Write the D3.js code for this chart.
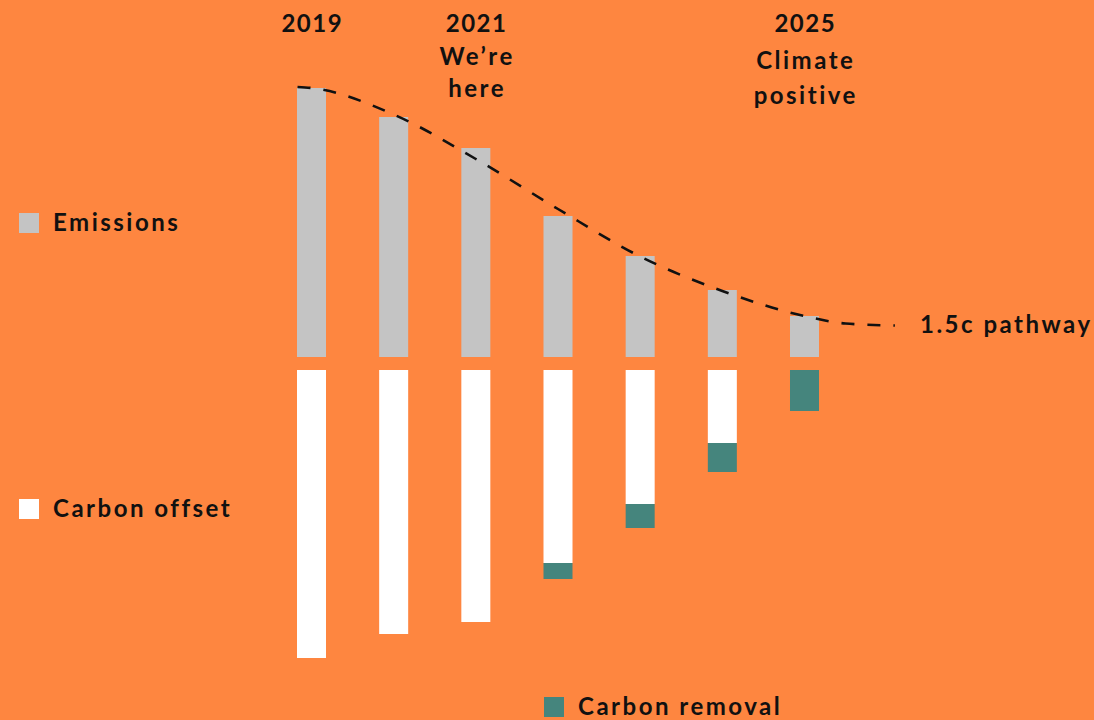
<!DOCTYPE html>
<html>
<head>
<meta charset="utf-8">
<script src="https://cdn.jsdelivr.net/npm/d3@7"></script>
<style>
  html, body { margin: 0; padding: 0; background: #FE8640; }
  svg { display: block; }
  text { font-family: Lato, "Open Sans", sans-serif; font-weight: 700; fill: #111; font-size: 24px; letter-spacing: 2.5px; }
  tspan.num { letter-spacing: 1.5px; }
</style>
</head>
<body>
<svg id="chart" width="1094" height="720"></svg>
<script>
// ---- data ----
const years = [2019, 2020, 2021, 2022, 2023, 2024, 2025];
const emissions = [269, 240, 209, 141, 101, 67, 41];
const carbonOffset = [288, 264, 252, 193, 134, 73, 0];
const carbonRemoval = [0, 0, 0, 16, 24, 29, 41];
const pathwayYears = [2018.83, 2019, 2020, 2021, 2022, 2023, 2024, 2025, 2025.5, 2026.1];
const pathwayValues = [270, 269, 242.5, 198, 148, 100.5, 66, 41, 33.5, 31.5];
const yearLabels = [
  { year: 2019, lines: ["2019"] },
  { year: 2021, lines: ["2021", "We\u2019re", "here"] },
  { year: 2025, lines: ["2025", "Climate", "positive"] }
];
const legendItems = ["Emissions", "Carbon offset", "Carbon removal"];
const pathwayLabel = "1.5c pathway";
const colors = { emissions: "#C4C4C4", offset: "#FFFFFF", removal: "#45857D" };

// ---- scales ----
const svg = d3.select("#chart");
const x = d3.scaleBand().domain(years).range([297, 819]).paddingInner(0.647).paddingOuter(0);
const xYear = d3.scaleLinear().domain([2019, 2025]).range([x(2019) + x.bandwidth() / 2, x(2025) + x.bandwidth() / 2]);
const yUp = d3.scaleLinear().domain([0, 300]).range([357, 57]);
const yDown = d3.scaleLinear().domain([0, 300]).range([370, 670]);

// emissions bars
svg.append("g").selectAll("rect").data(years).join("rect")
  .attr("x", d => x(d))
  .attr("width", x.bandwidth())
  .attr("y", (d, i) => yUp(emissions[i]))
  .attr("height", (d, i) => yUp(0) - yUp(emissions[i]))
  .attr("fill", colors.emissions);

// offset bars
svg.append("g").selectAll("rect").data(years).join("rect")
  .attr("x", d => x(d))
  .attr("width", x.bandwidth())
  .attr("y", yDown(0))
  .attr("height", (d, i) => yDown(carbonOffset[i]) - yDown(0))
  .attr("fill", colors.offset);

// removal bars (stacked below offsets)
svg.append("g").selectAll("rect").data(years).join("rect")
  .attr("x", d => x(d))
  .attr("width", x.bandwidth())
  .attr("y", (d, i) => yDown(carbonOffset[i]))
  .attr("height", (d, i) => yDown(carbonOffset[i] + carbonRemoval[i]) - yDown(carbonOffset[i]))
  .attr("fill", colors.removal);

// pathway line
const line = d3.line()
  .x(d => xYear(d[0]))
  .y(d => yUp(d[1]))
  .curve(d3.curveMonotoneX);
svg.append("path")
  .datum(pathwayYears.map((yr, i) => [yr, pathwayValues[i]]))
  .attr("d", line)
  .attr("fill", "none")
  .attr("stroke", "#111")
  .attr("stroke-width", 2.6)
  .attr("stroke-dasharray", "13,13");

svg.append("text").attr("x", 920).attr("y", 333).text(pathwayLabel);

// year labels
const lineYs = { 2019: [32], 2021: [32, 65, 97], 2025: [32, 69, 104] };
yearLabels.forEach(l => {
  const t = svg.append("text").attr("text-anchor", "middle");
  l.lines.forEach((s, j) => {
    t.append("tspan").attr("class", j === 0 ? "num" : null)
      .attr("x", xYear(l.year) + (j === 0 ? 0.75 : 1.25)).attr("y", lineYs[l.year][j]).text(s);
  });
});

// legend
const legendPos = [
  { x: 19, y: 213, tx: 53, ty: 231, c: colors.emissions },
  { x: 19, y: 499, tx: 53, ty: 517, c: colors.offset },
  { x: 544, y: 697, tx: 578, ty: 715, c: colors.removal }
];
legendItems.forEach((name, i) => {
  const p = legendPos[i];
  svg.append("rect").attr("x", p.x).attr("y", p.y).attr("width", 20).attr("height", 20).attr("fill", p.c);
  svg.append("text").attr("x", p.tx).attr("y", p.ty).text(name);
});
</script>
</body>
</html>
